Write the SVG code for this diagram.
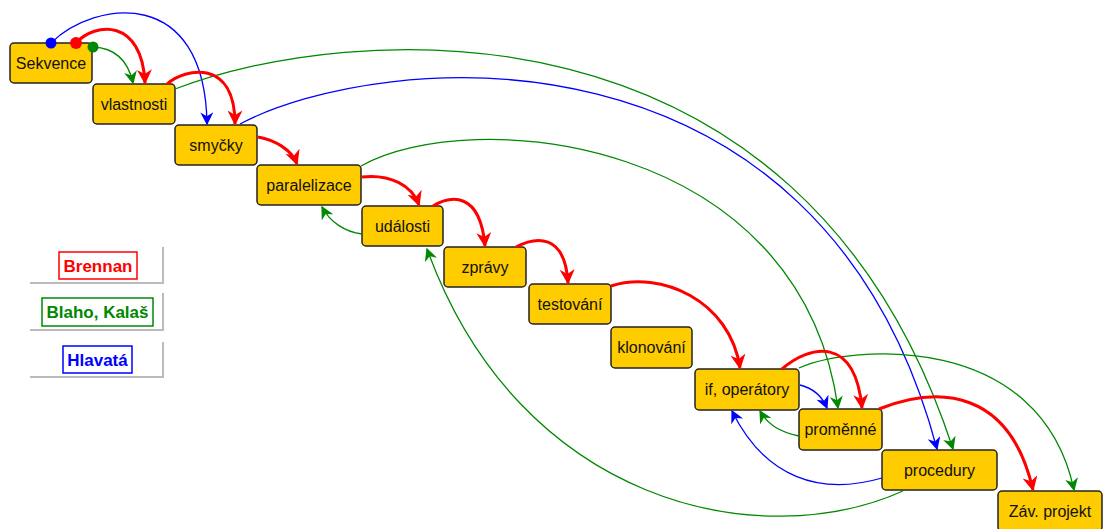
<svg xmlns="http://www.w3.org/2000/svg" width="1104" height="529" viewBox="0 0 1104 529">
<style>
.node rect{fill:#FFCC00;stroke:#222;stroke-width:1.5}
.node text{font-family:"Liberation Sans",Arial,sans-serif;font-size:16px;fill:#111;text-anchor:middle;dominant-baseline:central}
.leg rect{fill:#fff;stroke-width:1.5}
.leg text{font-family:"Liberation Sans",Arial,sans-serif;font-size:17px;font-weight:bold;text-anchor:middle;dominant-baseline:central}
.leg path{fill:none;stroke:#bbb;stroke-width:2}
.r{fill:none;stroke:#f00;stroke-width:3;marker-end:url(#ar)}
.g{fill:none;stroke:#080;stroke-width:1.3;marker-end:url(#ag)}
.b{fill:none;stroke:#00f;stroke-width:1.3;marker-end:url(#ab)}
</style>
<defs>
<marker id="ar" viewBox="0 0 10 10" refX="9" refY="5" markerUnits="userSpaceOnUse" markerWidth="18" markerHeight="15" orient="auto"><path d="M0,0 L10,5 L0,10 L3,5 z" fill="#f00"/></marker>
<marker id="ag" viewBox="0 0 10 10" refX="9" refY="5" markerUnits="userSpaceOnUse" markerWidth="16" markerHeight="13" orient="auto"><path d="M0,0 L10,5 L0,10 L3,5 z" fill="#080"/></marker>
<marker id="ab" viewBox="0 0 10 10" refX="9" refY="5" markerUnits="userSpaceOnUse" markerWidth="16" markerHeight="13" orient="auto"><path d="M0,0 L10,5 L0,10 L3,5 z" fill="#00f"/></marker>
</defs>

<g id="legend">
<g id="leg-brennan" class="leg"><path d="M30,283 H163 V247"/><rect x="59" y="252" width="78" height="27" stroke="#f00"/><text x="98" y="266" fill="#f00">Brennan</text></g>
<g id="leg-blaho" class="leg"><path d="M30,330 H163 V293"/><rect x="42" y="298" width="111" height="28" stroke="#080"/><text x="97.5" y="312.5" fill="#080">Blaho, Kalaš</text></g>
<g id="leg-hlavata" class="leg"><path d="M30,377 H163 V342"/><rect x="63" y="346" width="69" height="27" stroke="#00f"/><text x="97.5" y="360" fill="#00f">Hlavatá</text></g>
</g>

<g id="nodes">
<g id="n-sekvence" class="node"><rect x="10" y="43" width="82" height="40" rx="4"/><text x="51" y="63">Sekvence</text></g>
<g id="n-vlastnosti" class="node"><rect x="93" y="84" width="82" height="40" rx="4"/><text x="134" y="104">vlastnosti</text></g>
<g id="n-smycky" class="node"><rect x="175" y="125" width="82" height="40" rx="4"/><text x="216" y="145">smyčky</text></g>
<g id="n-paralelizace" class="node"><rect x="257" y="165" width="104" height="40" rx="4"/><text x="309" y="185">paralelizace</text></g>
<g id="n-udalosti" class="node"><rect x="362" y="206" width="81" height="40" rx="4"/><text x="402.5" y="226">události</text></g>
<g id="n-zpravy" class="node"><rect x="444" y="247" width="82" height="40" rx="4"/><text x="485" y="267">zprávy</text></g>
<g id="n-testovani" class="node"><rect x="529" y="284" width="82" height="40" rx="4"/><text x="570" y="304">testování</text></g>
<g id="n-klonovani" class="node"><rect x="611" y="327" width="81" height="41" rx="4"/><text x="651.5" y="347.5">klonování</text></g>
<g id="n-if" class="node"><rect x="695" y="369" width="104" height="41" rx="4"/><text x="747" y="389.5">if, operátory</text></g>
<g id="n-promenne" class="node"><rect x="799" y="409" width="83" height="41" rx="4"/><text x="840.5" y="429.5">proměnné</text></g>
<g id="n-procedury" class="node"><rect x="882" y="450" width="115" height="40" rx="4"/><text x="939.5" y="470">procedury</text></g>
<g id="n-zav" class="node"><rect x="998" y="491" width="104" height="40" rx="4"/><text x="1050" y="511">Záv. projekt</text></g>
</g>

<g id="connectors">
<!-- blue -->
<path class="b" d="M51,43 C95,0 205,-15 207,124"/>
<path class="b" d="M240,124 C380,50 820,10 937,449"/>
<path class="b" d="M800,385 C812,388 822,396 827,408"/>
<path class="b" d="M882,478 C820,496 765,478 732,411"/>
<!-- green -->
<path class="g" d="M93,47 C115,48 128,60 133,83"/>
<path class="g" d="M175,89 C340,25 800,-20 953,449"/>
<path class="g" d="M361,166 C470,105 800,135 838,408"/>
<path class="g" d="M362,234 C345,232 330,222 322,207"/>
<path class="g" d="M903,491 C760,555 520,505 427,249"/>
<path class="g" d="M799,436 C780,432 768,425 760,411"/>
<path class="g" d="M799,368 C850,345 1040,330 1074,490"/>
<!-- red -->
<path class="r" d="M76,43 C95,22 142,18 145,83"/>
<path class="r" d="M167,84 C185,68 235,58 235,124"/>
<path class="r" d="M258,137 C275,140 292,150 297,164"/>
<path class="r" d="M362,177 C390,174 412,185 419,205"/>
<path class="r" d="M433,206 C450,196 480,190 485,246"/>
<path class="r" d="M516,247 C535,237 565,232 568,283"/>
<path class="r" d="M611,286 C660,270 730,300 740,368"/>
<path class="r" d="M782,369 C810,345 855,335 862,408"/>
<path class="r" d="M879,409 C940,385 1010,390 1033,490"/>
<!-- start dots -->
<circle cx="51" cy="43" r="5.5" fill="#00f"/>
<circle cx="76" cy="43" r="6" fill="#f00"/>
<circle cx="93" cy="47" r="5.5" fill="#080"/>
</g>
</svg>
